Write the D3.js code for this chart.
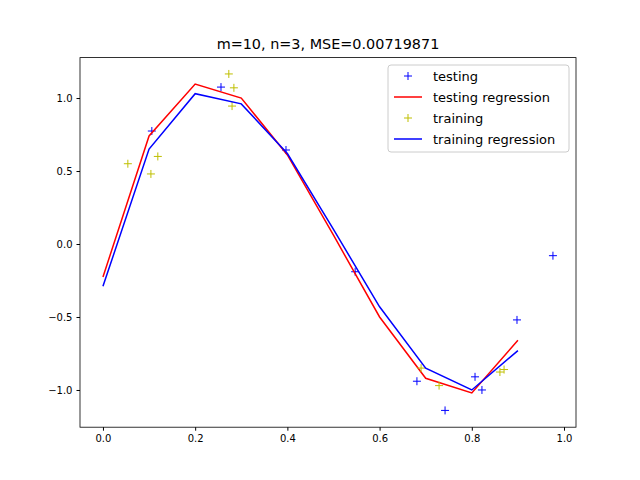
<!DOCTYPE html><html><head><meta charset="utf-8"><script src="https://d3js.org/d3.v7.min.js"></script>
<style>body{margin:0;background:#fff}text{font-family:"DejaVu Sans",sans-serif}</style></head><body>
<script>
const testX=[0.106,0.256,0.397,0.547,0.681,0.742,0.807,0.822,0.898,0.976];
const testY=[0.774,1.075,0.644,-0.19,-0.94,-1.14,-0.91,-1.0,-0.52,-0.08];
const trainX=[0.054,0.104,0.119,0.273,0.284,0.280,0.69,0.729,0.861,0.87];
const trainY=[0.55,0.48,0.60,1.165,1.07,0.945,-0.85,-0.97,-0.877,-0.86];
const lineX=[0,0.1,0.2,0.3,0.4,0.5,0.6,0.7,0.8,0.9];
const testReg=[-0.226,0.74,1.096,1.0,0.61,0.06,-0.5,-0.92,-1.02,-0.66];
const trainReg=[-0.29,0.65,1.03,0.96,0.62,0.1,-0.43,-0.85,-1.0,-0.73];
const xTicks=[0,0.2,0.4,0.6,0.8,1.0], yTicks=[-1,-0.5,0,0.5,1];
const W=640,H=480,L=80,R=576,T=57.6,B=427.2;
const svg=d3.select("body").append("svg").attr("width",W).attr("height",H);
const x=d3.scaleLinear().domain([-0.0498,1.026]).range([L,R]);
const y=d3.scaleLinear().domain([-1.255,1.277]).range([B,T]);
svg.append("text").attr("x",(L+R)/2).attr("y",49).attr("text-anchor","middle").attr("font-size",14.4).text("m=10, n=3, MSE=0.00719871");
const gx=svg.append("g").attr("transform",`translate(0,${B})`).call(d3.axisBottom(x).tickValues(xTicks).tickFormat(d3.format(".1f")).tickSize(3.5).tickPadding(4));
const gy=svg.append("g").attr("transform",`translate(${L},0)`).call(d3.axisLeft(y).tickValues(yTicks).tickFormat(d=>d3.format(".1f")(d).replace("-","−")).tickSize(3.5).tickPadding(4));
[gx,gy].forEach(g=>{g.selectAll("text").attr("font-size",10).attr("fill","#000");g.select(".domain").remove();});
svg.append("rect").attr("x",L).attr("y",T).attr("width",R-L).attr("height",B-T).attr("fill","none").attr("stroke","#000").attr("stroke-width",0.8);
const ln=d3.line().x((d,i)=>x(lineX[i])).y(d=>y(d));
function plus(g,xs,ys,c){g.selectAll(null).data(xs).enter().append("path").attr("d",(d,i)=>`M${x(d)-4},${y(ys[i])}h8M${x(d)},${y(ys[i])-4}v8`).attr("stroke",c).attr("stroke-width",1);}
plus(svg,testX,testY,"blue");
svg.append("path").attr("d",ln(testReg)).attr("fill","none").attr("stroke","red").attr("stroke-width",1.5);
plus(svg,trainX,trainY,"#bfbf00");
svg.append("path").attr("d",ln(trainReg)).attr("fill","none").attr("stroke","blue").attr("stroke-width",1.5);
const lg=svg.append("g");
lg.append("rect").attr("x",388).attr("y",65).attr("width",181).attr("height",87).attr("rx",3).attr("fill","#fff").attr("fill-opacity",0.8).attr("stroke","#ccc");
const items=[["testing","blue","m"],["testing regression","red","l"],["training","#bfbf00","m"],["training regression","blue","l"]];
items.forEach((it,i)=>{const yy=76+i*21;
 if(it[2]=="m")lg.append("path").attr("d",`M${404},${yy}h8M${408},${yy-4}v8`).attr("stroke",it[1]);
 else lg.append("line").attr("x1",394).attr("x2",422).attr("y1",yy).attr("y2",yy).attr("stroke",it[1]).attr("stroke-width",1.5);
 lg.append("text").attr("x",433).attr("y",yy+4.5).attr("font-size",13).text(it[0]);});
</script></body></html>
